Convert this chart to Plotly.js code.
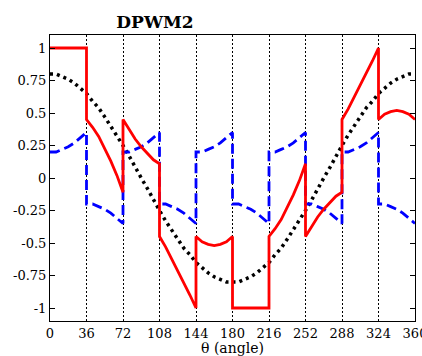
<!DOCTYPE html>
<html>
<head>
<meta charset="utf-8">
<script src="https://cdn.plot.ly/plotly-3.0.1.min.js"></script>
<style>html,body{margin:0;padding:0;background:#fff;}#chart{width:422px;height:356px;}</style>
</head>
<body>
<div id="chart"></div>
<script>
// Reference (black dotted) — angle and value
const thetaRef = [0,6,12,18,24,30,36,42,48,54,60,66,72,78,84,90,96,102,108,114,120,126,132,138,144,150,156,162,168,174,180,
  186,192,198,204,210,216,222,228,234,240,246,252,258,264,270,276,282,288,294,300,306,312,318,324,330,336,342,348,354,360];
const refVals = [0.80,0.80,0.78,0.76,0.73,0.69,0.65,0.59,0.54,0.47,0.40,0.33,0.25,0.17,0.08,0.00,-0.08,-0.17,-0.25,-0.33,-0.40,-0.47,-0.54,-0.59,-0.65,-0.69,-0.73,-0.76,-0.78,-0.80,-0.80,
  -0.80,-0.78,-0.76,-0.73,-0.69,-0.65,-0.59,-0.54,-0.47,-0.40,-0.33,-0.25,-0.17,-0.08,0.00,0.08,0.17,0.25,0.33,0.40,0.47,0.54,0.59,0.65,0.69,0.73,0.76,0.78,0.80,0.80];

// Segmented angle axis (duplicated at the 36° switching instants)
const thetaSeg = [
  0,6,12,18,24,30,36,
  36,42,48,54,60,66,72,
  72,78,84,90,96,102,108,
  108,114,120,126,132,138,144,
  144,150,156,162,168,174,180,
  180,186,192,198,204,210,216,
  216,222,228,234,240,246,252,
  252,258,264,270,276,282,288,
  288,294,300,306,312,318,324,
  324,330,336,342,348,354,360];

// Modulating signal (red solid)
const modVals = [
  1.00,1.00,1.00,1.00,1.00,1.00,1.00,
  0.45,0.39,0.32,0.23,0.13,0.02,-0.11,
  0.45,0.37,0.30,0.24,0.19,0.14,0.11,
  -0.45,-0.53,-0.62,-0.71,-0.80,-0.90,-1.00,
  -0.45,-0.49,-0.51,-0.52,-0.51,-0.49,-0.45,
  -1.00,-1.00,-1.00,-1.00,-1.00,-1.00,-1.00,
  -0.45,-0.39,-0.32,-0.23,-0.13,-0.02,0.11,
  -0.45,-0.37,-0.30,-0.24,-0.19,-0.14,-0.11,
  0.45,0.53,0.62,0.71,0.80,0.90,1.00,
  0.45,0.49,0.51,0.52,0.51,0.49,0.45];

// Zero-sequence signal (blue dashed)
const zeroVals = [
  0.20,0.20,0.22,0.24,0.27,0.31,0.35,
  -0.20,-0.20,-0.22,-0.24,-0.27,-0.31,-0.35,
  0.20,0.20,0.22,0.24,0.27,0.31,0.35,
  -0.20,-0.20,-0.22,-0.24,-0.27,-0.31,-0.35,
  0.20,0.20,0.22,0.24,0.27,0.31,0.35,
  -0.20,-0.20,-0.22,-0.24,-0.27,-0.31,-0.35,
  0.20,0.20,0.22,0.24,0.27,0.31,0.35,
  -0.20,-0.20,-0.22,-0.24,-0.27,-0.31,-0.35,
  0.20,0.20,0.22,0.24,0.27,0.31,0.35,
  -0.20,-0.20,-0.22,-0.24,-0.27,-0.31,-0.35];

const xTicks = [0,36,72,108,144,180,216,252,288,324,360];
const yTicks = [-1,-0.75,-0.5,-0.25,0,0.25,0.5,0.75,1];
const yTickText = ['-1','-0.75','-0.5','-0.25','0','0.25','0.5','0.75','1'];

const serif = 'DejaVu Serif';

const traces = [
  {x: thetaRef, y: refVals, mode:'lines', line:{color:'#000', width:3.5, dash:'3px,4px'}, hoverinfo:'skip'},
  {x: thetaSeg, y: zeroVals, mode:'lines', line:{color:'#0000ff', width:2.8, dash:'10px,5px'}, hoverinfo:'skip'},
  {x: thetaSeg, y: modVals, mode:'lines', line:{color:'#ff0000', width:2.8}, hoverinfo:'skip'}
];

const layout = {
  width:422, height:356,
  margin:{l:50, r:7, t:35, b:35},
  paper_bgcolor:'#fff', plot_bgcolor:'#fff',
  showlegend:false,
  font:{family:serif, color:'#000'},
  title:{text:'<b>DPWM2</b>', font:{family:serif, size:17, color:'#000'},
    xref:'container', yref:'container', x:155/422, xanchor:'center', y:1-22/356, yanchor:'middle'},
  xaxis:{range:[0,360], tickvals:xTicks, ticktext:xTicks.map(String),
    showgrid:true, gridcolor:'#000', gridwidth:1, griddash:'2px,2px',
    showline:true, linecolor:'#000', linewidth:1, mirror:true,
    ticks:'', zeroline:false, ticklabeloverflow:'allow',
    tickfont:{family:serif, size:13, color:'#000'}},
  yaxis:{range:[-1.1,1.1], tickvals:yTicks, ticktext:yTickText,
    showgrid:false, zeroline:false,
    showline:true, linecolor:'#000', linewidth:1, mirror:'ticks',
    ticks:'inside', ticklen:5, tickcolor:'#000', tickwidth:1,
    tickfont:{family:serif, size:13, color:'#000'}},
  annotations:[{text:'θ (angle)', xref:'paper', yref:'paper', x:0.5, xanchor:'center',
    y:(321-348)/286, yanchor:'middle', showarrow:false, font:{family:serif, size:14, color:'#000'}}]
};

Plotly.newPlot('chart', traces, layout, {staticPlot:true, displayModeBar:false});
</script>
</body>
</html>
